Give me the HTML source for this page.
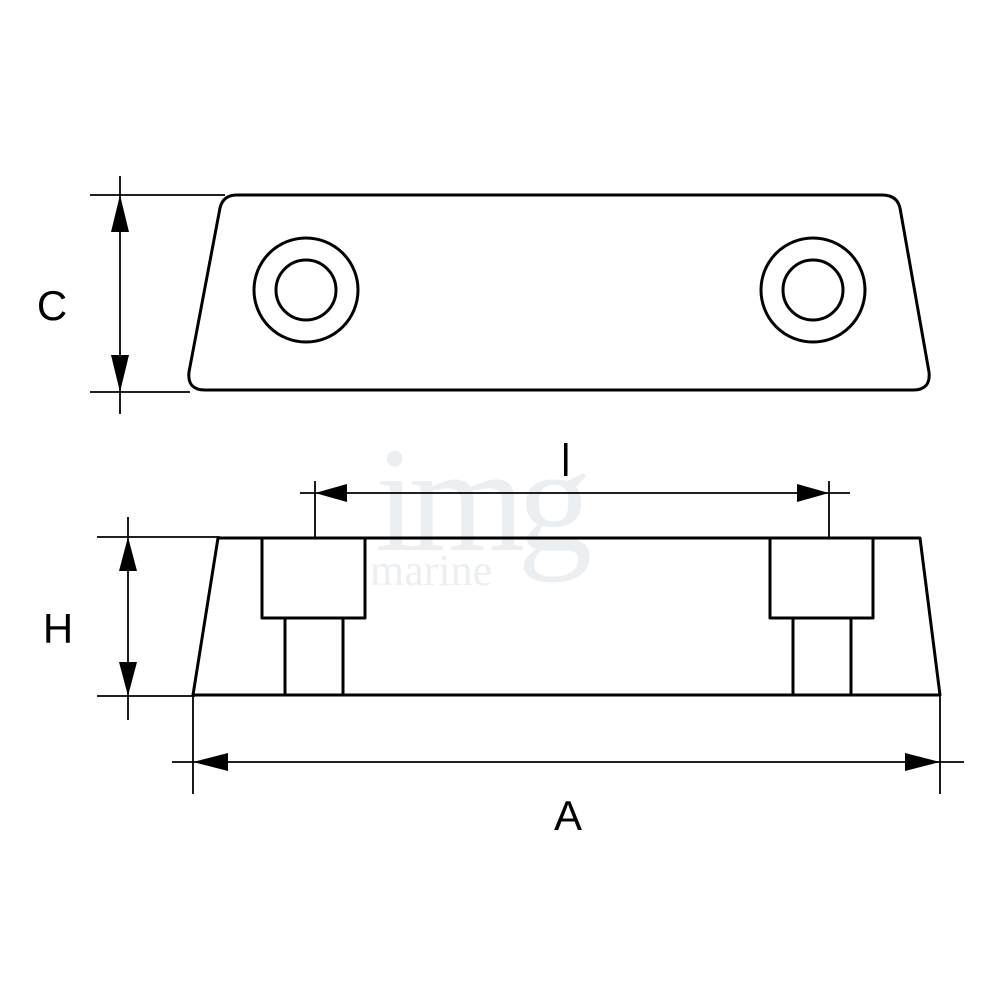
<!DOCTYPE html>
<html><head><meta charset="utf-8"><style>html,body{margin:0;padding:0;background:#fff}svg{display:block}</style></head>
<body>
<svg width="1000" height="1000" viewBox="0 0 1000 1000" xmlns="http://www.w3.org/2000/svg">
<rect width="1000" height="1000" fill="#fff"/>
<text x="375" y="550" font-family="Liberation Serif, serif" font-size="150" fill="#eceff2" letter-spacing="-8">img</text>
<text x="370" y="585" font-family="Liberation Serif, serif" font-size="44" fill="#eceff2">marine</text>
<g fill="none" stroke="#000" stroke-width="3" stroke-linejoin="round">
<path d="M237 195 L882 195 Q897 195 900 208 L929 372 Q931 390 913 390 L205 390 Q187 390 189 372 L220 208 Q223 195 237 195 Z"/>
<circle cx="306" cy="290" r="52"/><circle cx="306" cy="290" r="30"/>
<circle cx="813" cy="290" r="52"/><circle cx="813" cy="290" r="30"/>
<path d="M218 538 L920 538 L940 695 L193 695 Z"/>
<path d="M262 538 L262 618 L365 618 L365 538"/>
<path d="M285 618 L285 695 M343 618 L343 695"/>
<path d="M770 538 L770 618 L873 618 L873 538"/>
<path d="M793 618 L793 695 M851 618 L851 695"/>
</g>
<g fill="none" stroke="#000" stroke-width="1.8">
<line x1="90" y1="195" x2="225" y2="195"/><line x1="90" y1="392" x2="190" y2="392"/>
<line x1="120" y1="176" x2="120" y2="414"/>
<line x1="97" y1="537" x2="220" y2="537"/><line x1="97" y1="696" x2="195" y2="696"/>
<line x1="128" y1="517" x2="128" y2="720"/>
<line x1="300" y1="493" x2="850" y2="493"/>
<line x1="315" y1="481" x2="315" y2="538"/><line x1="829" y1="481" x2="829" y2="538"/>
<line x1="172" y1="762" x2="964" y2="762"/>
<line x1="193" y1="695" x2="193" y2="794"/><line x1="940" y1="695" x2="940" y2="794"/>
</g>
<g fill="#000">
<polygon points="120,195 111,232 129,232"/><polygon points="120,392 111,355 129,355"/>
<polygon points="128,537 119,571 137,571"/><polygon points="128,696 119,662 137,662"/>
<polygon points="315,493 347,484 347,502"/><polygon points="829,493 797,484 797,502"/>
<polygon points="193,762 228,753 228,771"/><polygon points="940,762 905,753 905,771"/>
</g>
<g font-family="Liberation Sans, Arial, sans-serif" font-size="42" fill="#000" text-anchor="middle">
<text x="52" y="320">C</text>
<text x="58" y="643">H</text>
<text x="568" y="830">A</text>
</g>
<rect x="564" y="443" width="3.5" height="33" fill="#000"/>
</svg>
</body></html>
